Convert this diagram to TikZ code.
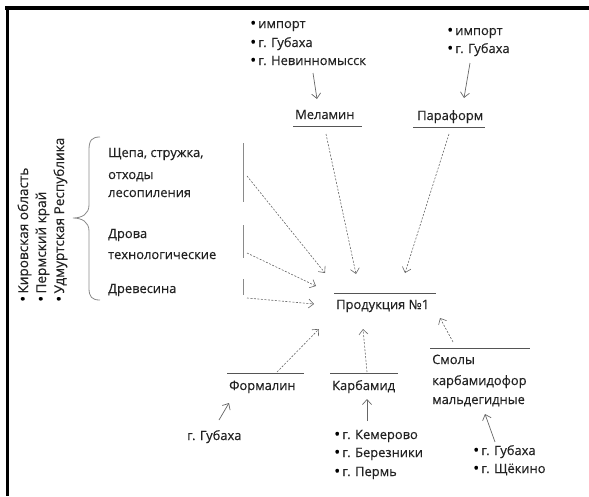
\documentclass[tikz,border=0pt]{standalone}
\usepackage{fontspec}
\setmainfont{Open Sans}[FakeBold=0.35]
\usetikzlibrary{arrows.meta}
\definecolor{txtc}{HTML}{222222}
\definecolor{linec}{HTML}{555555}
\definecolor{barc}{HTML}{8A8A8A}
\definecolor{arrc}{HTML}{666666}
\newcommand\mybul{{\color{black}\fontsize{16}{16}\selectfont\raisebox{-0.6pt}{\textbullet}}\,}
\begin{document}
\begin{tikzpicture}[x=1pt,y=-1pt,
  txt/.style={anchor=base west, inner sep=0pt, text=txtc, font=\fontsize{12.9}{14}\selectfont},
  rtxt/.style={txt, rotate=90, font=\fontsize{13.6}{15}\selectfont},
  uline/.style={draw=linec, line width=0.9pt},
  vbar/.style={draw=barc, line width=0.9pt},
  darr/.style={draw=arrc, line width=0.6pt, dash pattern=on 2pt off 1.5pt, -{Straight Barb[length=5pt,width=9pt]}},
  sarr/.style={draw=arrc, line width=0.7pt, -{Straight Barb[length=5pt,width=9pt]}},
  frame/.style={draw=black, line width=3.5pt}
]
\useasboundingbox (0,0) rectangle (589,496);
% frame
\coordinate (fa) at (5,8); \coordinate (fb) at (589,8);
\coordinate (fc) at (7.5,8); \coordinate (fd) at (7.5,496);
\draw[frame] (fa) -- (fb);
\draw[frame] (fc) -- (fd);

% Melamin sources
\node[txt] (m1) at (250,28) {\mybul импорт};
\node[txt] (m2) at (250,47) {\mybul г. Губаха};
\node[txt] (m3) at (250,65) {\mybul г. Невинномысск};
\coordinate (ma1) at (313,73); \coordinate (ma2) at (317,99);
\draw[sarr] (ma1) -- (ma2);
\node[txt] (mel) at (295,119) {Меламин};
\coordinate (mel1) at (293,126); \coordinate (mel2) at (362,126);
\draw[uline] (mel1) -- (mel2);

% Paraform sources
\node[txt] (p1) at (447,35) {\mybul импорт};
\node[txt] (p2) at (447,53) {\mybul г. Губаха};
\coordinate (pa1) at (470,63); \coordinate (pa2) at (464,98);
\draw[sarr] (pa1) -- (pa2);
\node[txt] (par) at (417,120) {Параформ};
\coordinate (par1) at (413,127); \coordinate (par2) at (485,127);
\draw[uline] (par1) -- (par2);

% regions (rotated)
\node[rtxt] (r1) at (28,302) {\mybul Кировская область};
\node[rtxt] (r2) at (46,302) {\mybul Пермский край};
\node[rtxt] (r3) at (64,302) {\mybul Удмуртская Республика};
\draw[draw=barc, line width=0.8pt] (100,137) .. controls (92,137) and (89,140) .. (89,150) -- (89,205)
  .. controls (89,214) and (82,218) .. (73,218)
  .. controls (82,218) and (89,222) .. (89,231) -- (89,288)
  .. controls (89,297) and (92,300) .. (100,300);

% wood inputs
\node[txt] (s1) at (108,157) {Щепа, стружка,};
\node[txt] (s2) at (108,179) {отходы};
\node[txt] (s3) at (108,197) {лесопиления};
\node[txt] (d1) at (108,238) {Дрова};
\node[txt] (d2) at (108,259) {технологические};
\node[txt] (w1) at (108,293) {Древесина};
\coordinate (b1a) at (243,143); \coordinate (b1b) at (243,202);
\coordinate (b2a) at (243,225); \coordinate (b2b) at (243,258);
\coordinate (b3a) at (243,279); \coordinate (b3b) at (243,295);
\draw[vbar] (b1a) -- (b1b);
\draw[vbar] (b2a) -- (b2b);
\draw[vbar] (b3a) -- (b3b);

% product
\node[txt] (prod) at (336,309) {Продукция №1};
\coordinate (pr1) at (334,293); \coordinate (pr2) at (436,293);
\draw[draw=linec, line width=1pt] (pr1) -- (pr2);

% dashed arrows into product
\coordinate (e1s) at (247,176); \coordinate (e1e) at (325,273);
\coordinate (e2s) at (247,253); \coordinate (e2e) at (316,286);
\coordinate (e3s) at (247,298); \coordinate (e3e) at (314,304);
\coordinate (e4s) at (326,134); \coordinate (e4e) at (356,274);
\coordinate (e5s) at (449,134); \coordinate (e5e) at (405,273);
\draw[darr] (e1s) -- (e1e);
\draw[darr] (e2s) -- (e2e);
\draw[darr] (e3s) -- (e3e);
\draw[darr] (e4s) -- (e4e);
\draw[darr] (e5s) -- (e5e);

% bottom inputs
\node[txt] (form) at (229,390) {Формалин};
\coordinate (fo1) at (227,373); \coordinate (fo2) at (304,373);
\draw[uline] (fo1) -- (fo2);
\coordinate (e6s) at (277,372); \coordinate (e6e) at (319,329);
\draw[darr] (e6s) -- (e6e);

\node[txt] (karb) at (332,390) {Карбамид};
\coordinate (ka1) at (330,373); \coordinate (ka2) at (398,373);
\draw[uline] (ka1) -- (ka2);
\coordinate (e7s) at (367,372); \coordinate (e7e) at (363,329);
\draw[darr] (e7s) -- (e7e);

\node[txt] (sm1) at (432,364) {Смолы};
\node[txt] (sm2) at (432,385) {карбамидофор};
\node[txt] (sm3) at (432,404) {мальдегидные};
\coordinate (sm1a) at (430,348); \coordinate (sm1b) at (530,348);
\draw[uline] (sm1a) -- (sm1b);
\coordinate (e8s) at (453,342); \coordinate (e8e) at (440,318);
\draw[darr] (e8s) -- (e8e);

% bottom sources
\node[txt] (g1) at (187,440) {г. Губаха};
\coordinate (ga1) at (219,420); \coordinate (ga2) at (229,403);
\draw[sarr] (ga1) -- (ga2);

\node[txt] (k1) at (334,439) {\mybul г. Кемерово};
\node[txt] (k2) at (334,457) {\mybul г. Березники};
\node[txt] (k3) at (334,476) {\mybul г. Пермь};
\coordinate (ka3) at (367,421); \coordinate (ka4) at (367,399);
\draw[sarr] (ka3) -- (ka4);

\node[txt] (q1) at (473,455) {\mybul г. Губаха};
\node[txt] (q2) at (473,473) {\mybul г. Щёкино};
\coordinate (qa1) at (495,442); \coordinate (qa2) at (485,414);
\draw[sarr] (qa1) -- (qa2);
\end{tikzpicture}
\end{document}
